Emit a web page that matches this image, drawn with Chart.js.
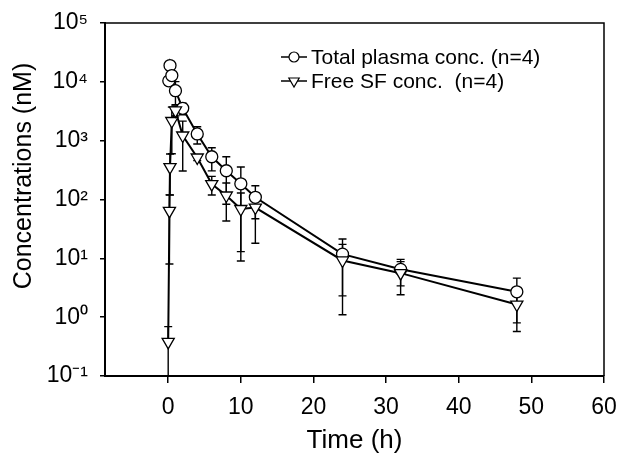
<!DOCTYPE html>
<html>
<head>
<meta charset="utf-8">
<script src="https://cdn.jsdelivr.net/npm/chart.js@4.4.1/dist/chart.umd.min.js"></script>
<style>
    html, body { margin: 0; padding: 0; background: #fff; }
</style>
</head>
<body>
<canvas id="pkChart" width="619" height="462"></canvas>
<script>
// Total plasma concentration (circles)
const totalTimes = [0.083, 0.25, 0.5, 1, 2, 4, 6, 8, 10, 12, 24, 32, 48];
const totalMean = [10400, 18900, 12800, 7070, 3550, 1300, 533, 308, 185, 109, 11.8, 6.5, 2.7];
const totalSd = [1500, 2500, 2000, 3000, 800, 420, 226, 225, 172, 62, 9.5, 3.1, 1.9];

// Free SF concentration (triangles)
const freeTimes = [0, 0.17, 0.25, 0.5, 1, 2, 4, 6, 8, 10, 12, 24, 32, 48];
const freeMean = [0.38, 64, 356, 2160, 3260, 1225, 517, 183, 117, 69, 73, 9.2, 5.6, 1.64];
const freeSd = [0.31, 56, 237, 1560, 620, 920, 60, 64, 74, 60, 55, 8.1, 3.2, 1.07];

const xTicks = [0, 10, 20, 30, 40, 50, 60];
const yTicks = [0.1, 1, 10, 100, 1000, 10000, 100000];
const yTickLabels = ['10⁻¹', '10⁰', '10¹', '10²', '10³', '10⁴', '10⁵'];
const yTitle = 'Concentrations (nM)';

const fontFamily = '"Liberation Sans", Arial, Helvetica, sans-serif';

const toPoints = (times, values) => times.map((t, i) => ({ x: t, y: values[i] }));

// error bars, drawn under the markers
const errorBars = {
    id: 'errorBars',
    beforeDatasetsDraw(chart) {
        const { ctx, chartArea, scales: { x, y } } = chart;
        ctx.save();
        ctx.beginPath();
        ctx.rect(chartArea.left, chartArea.top, chartArea.right - chartArea.left, chartArea.bottom - chartArea.top);
        ctx.clip();
        ctx.strokeStyle = '#000';
        ctx.lineWidth = 1.4;
        chart.data.datasets.forEach(ds => {
            ds.data.forEach((p, i) => {
                const sd = ds.errors[i];
                const px = x.getPixelForValue(p.x);
                const hi = y.getPixelForValue(p.y + sd);
                const hasLow = p.y - sd > 0;
                const lo = hasLow ? y.getPixelForValue(p.y - sd) : chartArea.bottom + 5;
                ctx.beginPath();
                ctx.moveTo(px, hi);
                ctx.lineTo(px, lo);
                ctx.moveTo(px - 4, hi);
                ctx.lineTo(px + 4, hi);
                if (hasLow) {
                    ctx.moveTo(px - 4, lo);
                    ctx.lineTo(px + 4, lo);
                }
                ctx.stroke();
            });
        });
        ctx.restore();
    }
};

// top and right frame lines, y axis title
const frame = {
    id: 'frame',
    afterDraw(chart) {
        const { ctx, chartArea } = chart;
        ctx.save();
        ctx.strokeStyle = '#000';
        ctx.lineWidth = 1.5;
        ctx.beginPath();
        ctx.moveTo(chartArea.left, chartArea.top);
        ctx.lineTo(chartArea.right, chartArea.top);
        ctx.lineTo(chartArea.right, chartArea.bottom);
        ctx.stroke();

        ctx.translate(24, 176);
        ctx.rotate(-Math.PI / 2);
        ctx.font = `25px ${fontFamily}`;
        ctx.fillStyle = '#000';
        ctx.textAlign = 'center';
        ctx.textBaseline = 'middle';
        ctx.fillText(yTitle, 0, 0);
        ctx.restore();
    }
};

const drawMarker = (ctx, style, x, y, r) => {
    ctx.beginPath();
    if (style === 'circle') {
        ctx.arc(x, y, r, 0, Math.PI * 2);
    } else {
        // downward triangle
        const h = r * Math.sqrt(3) / 2;
        ctx.moveTo(x - h, y - r / 2);
        ctx.lineTo(x + h, y - r / 2);
        ctx.lineTo(x, y + r);
        ctx.closePath();
    }
    ctx.fillStyle = '#fff';
    ctx.fill();
    ctx.stroke();
};

const legendBox = {
    id: 'legendBox',
    afterDraw(chart) {
        const { ctx } = chart;
        const rows = [57, 81];
        ctx.save();
        ctx.font = `21px ${fontFamily}`;
        ctx.textBaseline = 'middle';
        chart.data.datasets.slice().sort((a, b) => b.order - a.order).forEach((ds, i) => {
            const yy = rows[i];
            ctx.strokeStyle = '#000';
            ctx.lineWidth = 1.5;
            ctx.beginPath();
            ctx.moveTo(281, yy);
            ctx.lineTo(307, yy);
            ctx.stroke();
            ctx.lineWidth = 1.2;
            drawMarker(ctx, ds.pointStyle, 294, yy, ds.pointStyle === 'circle' ? 5 : 6);
            ctx.fillStyle = '#000';
            ctx.fillText(ds.label, 311, yy + 1);
        });
        ctx.restore();
    }
};

new Chart(document.getElementById('pkChart'), {
    type: 'scatter',
    data: {
        datasets: [{
            label: 'Total plasma conc. (n=4)',
            data: toPoints(totalTimes, totalMean),
            errors: totalSd,
            showLine: true,
            borderColor: '#000',
            borderWidth: 2,
            pointStyle: 'circle',
            pointRadius: 6,
            pointBorderWidth: 1.3,
            pointBackgroundColor: '#fff',
            pointBorderColor: '#000',
            order: 1
        }, {
            label: 'Free SF conc.  (n=4)',
            data: toPoints(freeTimes, freeMean),
            errors: freeSd,
            showLine: true,
            borderColor: '#000',
            borderWidth: 2,
            pointStyle: 'triangle',
            pointRotation: 180,
            pointRadius: 7,
            pointBorderWidth: 1.3,
            pointBackgroundColor: '#fff',
            pointBorderColor: '#000',
            order: 0
        }]
    },
    options: {
        responsive: false,
        animation: false,
        layout: { padding: { top: 23, right: 15, left: 0, bottom: 0 } },
        plugins: {
            legend: { display: false },
            tooltip: { enabled: false }
        },
        scales: {
            x: {
                type: 'linear',
                min: -8.7,
                max: 60,
                afterBuildTicks: s => { s.ticks = xTicks.map(v => ({ value: v })); },
                afterFit: s => {
                    s.height = 86;
                    s.paddingLeft = 0;
                    s.paddingRight = 0;
                },
                grid: { drawOnChartArea: false, tickLength: 7, color: '#000', lineWidth: 1.5 },
                border: { color: '#000', width: 2 },
                ticks: { color: '#000', padding: 11, maxRotation: 0, font: { family: fontFamily, size: 23 } },
                title: {
                    display: true,
                    text: 'Time (h)',
                    color: '#000',
                    font: { family: fontFamily, size: 26 },
                    padding: { top: 0, bottom: 6 }
                }
            },
            y: {
                type: 'logarithmic',
                min: 0.1,
                max: 100000,
                afterBuildTicks: s => { s.ticks = yTicks.map(v => ({ value: v, major: true })); },
                afterFit: s => {
                    s.width = 105;
                    s.paddingTop = 0;
                    s.paddingBottom = 0;
                },
                grid: { drawOnChartArea: false, tickLength: 5, color: '#000', lineWidth: 1.5 },
                border: { color: '#000', width: 2 },
                ticks: {
                    color: '#000',
                    padding: 12,
                    font: { family: fontFamily, size: 23 },
                    callback: (value, index) => yTickLabels[index]
                }
            }
        }
    },
    plugins: [errorBars, frame, legendBox]
});
</script>
</body>
</html>
